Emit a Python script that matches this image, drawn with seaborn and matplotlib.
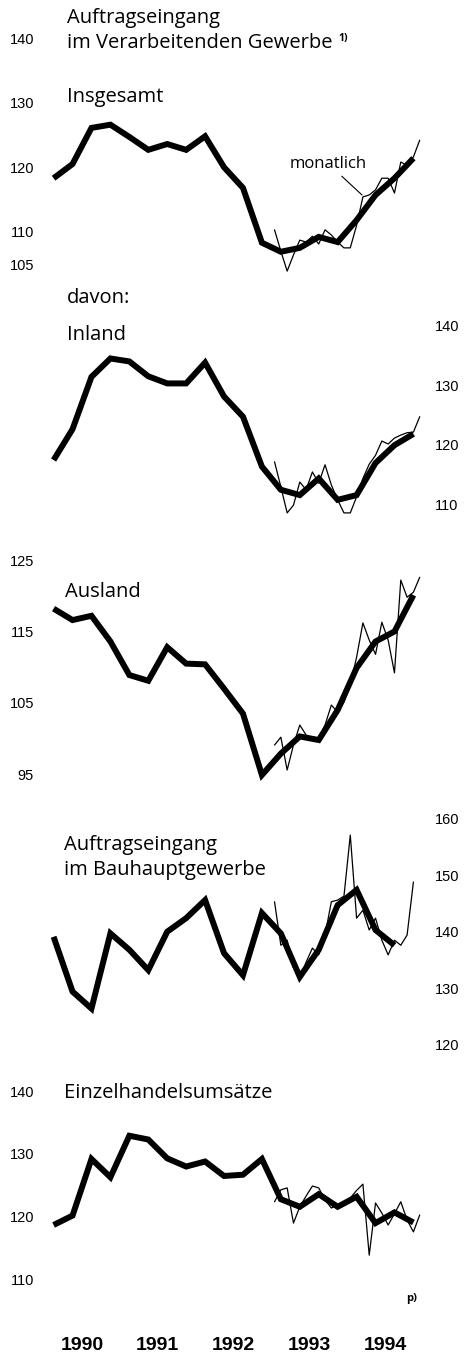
import numpy as np
import pandas as pd
import matplotlib.pyplot as plt
import seaborn as sns

# quarterly values 1990 Q1 .. 1994 Q4 (thick line), monthly values from Jan 1993 (thin line)
ins_q = [118.3, 120.5, 126.1, 126.6, 124.7, 122.7, 123.6, 122.7, 124.8, 120.0,
         116.8, 108.3, 106.9, 107.5, 109.2, 108.4, 111.8, 115.7, 118.3, 121.4]
ins_m = [110.3, 107.0, 103.9, 106.4, 108.7, 108.4, 109.3, 108.1, 110.3, 109.5, 108.4, 107.5,
         107.5, 111.0, 115.4, 115.7, 116.5, 118.3, 118.3, 116.0, 120.8, 120.3, 121.6, 124.2]

inl_q = [117.4, 122.6, 131.4, 134.5, 134.0, 131.5, 130.3, 130.3, 133.8, 128.1,
         124.7, 116.3, 112.4, 111.5, 114.3, 110.7, 111.5, 116.9, 119.9, 121.8]
inl_m = [117.1, 112.9, 108.5, 109.8, 113.7, 112.4, 115.4, 113.5, 116.6, 113.2, 110.7, 108.5,
         108.5, 111.2, 114.3, 116.7, 118.2, 120.6, 120.1, 121.1, 121.6, 122.0, 122.1, 124.7]

aus_q = [118.2, 116.6, 117.2, 113.6, 108.9, 108.1, 112.8, 110.5, 110.4, 107.0,
         103.5, 94.9, 97.9, 100.3, 99.8, 104.0, 109.9, 113.6, 115.0, 120.1]
aus_m = [99.1, 100.2, 95.6, 99.1, 101.9, 100.5, 100.1, 100.1, 101.9, 104.7, 103.7, 105.1,
         107.5, 111.4, 116.2, 113.8, 111.8, 116.3, 113.8, 109.2, 122.2, 119.8, 120.5, 122.6]

bau_q = [139.1, 129.4, 126.4, 139.7, 136.8, 133.2, 140.0, 142.4, 145.6, 136.2,
         132.3, 143.3, 139.7, 132.0, 136.8, 144.7, 147.4, 140.3, 137.6]
bau_m = [145.3, 137.6, 138.5, 133.6, 131.8, 134.6, 137.1, 135.9, 139.4, 145.3, 145.6, 146.3,
         157.1, 142.4, 143.8, 140.3, 142.4, 138.5, 135.9, 138.5, 137.6, 139.4, 148.8]

eh_q = [118.7, 120.2, 129.2, 126.3, 132.9, 132.3, 129.3, 128.0, 128.8, 126.5,
        126.7, 129.2, 122.8, 121.6, 123.6, 121.6, 123.2, 119.0, 120.7, 119.1]
eh_m = [122.4, 124.3, 124.6, 119.0, 121.6, 123.3, 124.9, 124.6, 122.7, 121.4, 121.9, 122.4,
        123.0, 124.2, 125.2, 113.9, 122.2, 120.6, 118.7, 120.5, 122.4, 119.5, 117.6, 120.3]

years = [1990, 1991, 1992, 1993, 1994]

quarter_x = 1990 + (np.arange(20) + 0.5) / 4
month_x = 1993 + (np.arange(24) + 0.5) / 12

sns.set_style("white")
plt.rcParams['font.family'] = ['Open Sans', 'DejaVu Sans']
plt.rcParams['text.color'] = 'black'
plt.rcParams['xtick.color'] = 'black'
plt.rcParams['ytick.color'] = 'black'
num_font = ['Liberation Sans Narrow', 'Liberation Sans', 'DejaVu Sans']

W, H = 466, 1353
fig = plt.figure(figsize=(W / 100, H / 100), dpi=100)

AX_L, AX_R = 45, 430


def px_x(px):
    return 1990.5 + (px - 82) / 75.75


# panel: quarterly, monthly, pixel band, value<->pixel mapping, ticks, side
panels = [
    (ins_q, ins_m, 25, 285, 121, 160.8, 6.45, [105, 110, 120, 130, 140], 'left'),
    (inl_q, inl_m, 300, 525, 125, 414.9, 5.94, [110, 120, 130, 140], 'right'),
    (aus_q, aus_m, 550, 795, 110, 667.2, 7.14, [95, 105, 115, 125], 'left'),
    (bau_q, bau_m, 805, 1065, 140, 931.7, 5.65, [120, 130, 140, 150, 160], 'right'),
    (eh_q, eh_m, 1075, 1305, 125, 1185.4, 6.285, [110, 120, 130, 140], 'left'),
]

axes = []
for q, m, top, bottom, v0, y0, s, ticks, side in panels:
    ax = fig.add_axes([AX_L / W, 1 - bottom / H, (AX_R - AX_L) / W, (bottom - top) / H])
    ax.patch.set_alpha(0)
    dq = pd.DataFrame({'t': quarter_x[:len(q)], 'v': q})
    dm = pd.DataFrame({'t': month_x[:len(m)], 'v': m})
    sns.lineplot(data=dm, x='t', y='v', ax=ax, color='black', linewidth=0.9)
    sns.lineplot(data=dq, x='t', y='v', ax=ax, color='black', linewidth=4.3,
                 solid_joinstyle='miter', solid_capstyle='butt')
    ax.set_xlim(px_x(AX_L), px_x(AX_R))
    ax.set_ylim(v0 + (y0 - bottom) / s, v0 + (y0 - top) / s)
    ax.set_yticks(ticks, labels=[str(t) for t in ticks], fontfamily=num_font, fontsize=10.5)
    if side == 'right':
        ax.yaxis.tick_right()
        ax.tick_params(axis='y', length=0, pad=3.5)
    else:
        ax.tick_params(axis='y', length=0, pad=8)
    ax.set_xticks([])
    ax.set_xlabel('')
    ax.set_ylabel('')
    for sp in ax.spines.values():
        sp.set_visible(False)
    axes.append(ax)

# year labels on the bottom panel
axb = axes[-1]
axb.set_xticks([y + 0.5 for y in years], labels=[str(y) for y in years],
               fontfamily=['Liberation Sans', 'DejaVu Sans'], fontsize=14, fontweight='bold')
axb.tick_params(axis='x', length=0, pad=23)


def ftext(px, py, s, **kw):
    fig.text(px / W, 1 - py / H, s, va='center', **kw)


TS = 14.5
ftext(67, 18, 'Auftragseingang', fontsize=TS)
ftext(67, 43, 'im Verarbeitenden Gewerbe', fontsize=TS)
ftext(338, 38, '1)', fontsize=7.5, fontweight='bold')
ftext(67, 97, 'Insgesamt', fontsize=TS)
ftext(67, 298, 'davon:', fontsize=TS)
ftext(67, 335, 'Inland', fontsize=TS)
ftext(65, 592, 'Ausland', fontsize=TS)
ftext(64, 845, 'Auftragseingang', fontsize=TS)
ftext(64, 870, 'im Bauhauptgewerbe', fontsize=TS)
ftext(64, 1093, 'Einzelhandelsumsätze', fontsize=TS)
ftext(406, 1298, 'p)', fontsize=8, fontweight='bold')

# "monatlich" label with leader line
ax1 = axes[0]
ax1.annotate('monatlich', xy=(px_x(362), 121 + (160.8 - 195) / 6.45),
             xytext=(px_x(328), 121 + (160.8 - 164) / 6.45),
             ha='center', va='center', fontsize=12,
             arrowprops=dict(arrowstyle='-', lw=0.8, color='black',
                             relpos=(0.62, 0), shrinkA=1, shrinkB=0))

fig.savefig('out.png', dpi=100, facecolor='white')
